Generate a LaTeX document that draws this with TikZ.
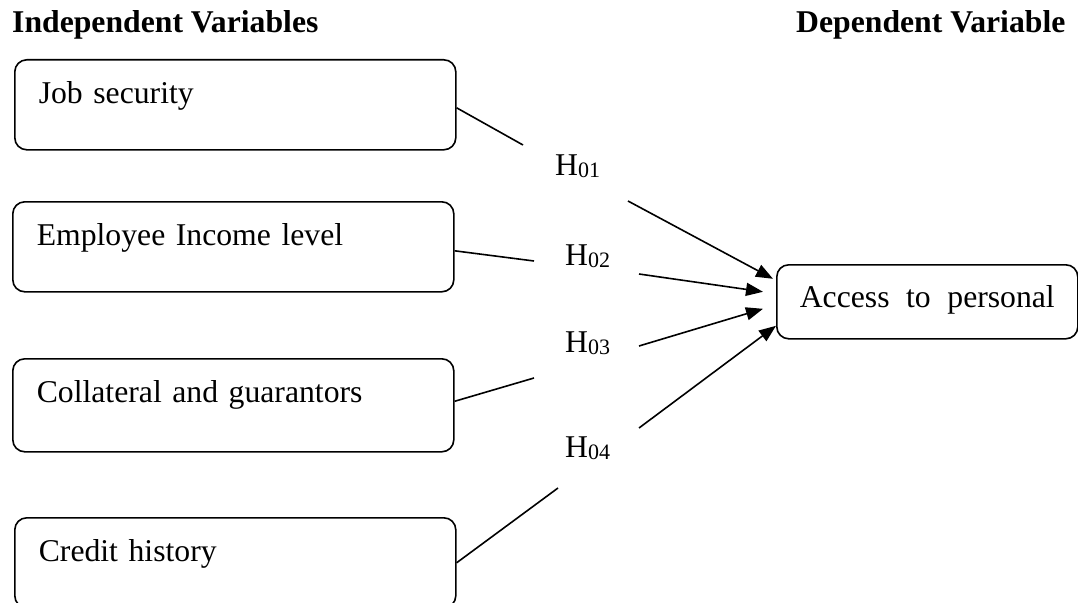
\documentclass[tikz,border=0pt]{standalone}
\usepackage{fontspec}
\setmainfont{Liberation Serif}
\usetikzlibrary{arrows.meta}
\newcommand{\hsub}[1]{\raisebox{-2pt}{\fontsize{22}{26}\selectfont #1}}
\tikzset{
  every node/.style={font=\fontsize{31.7}{38}\selectfont},
  varbox/.style={draw,line width=1.6pt,rounded corners=12pt,anchor=north west,
    text width=393pt,align=left,inner xsep=24pt,inner ysep=0pt,
    text height=44pt,text depth=46pt},
  accbox/.style={draw,line width=1.6pt,rounded corners=12pt,anchor=north west,
    minimum width=301pt,inner xsep=0pt,inner ysep=0pt,
    text height=43pt,text depth=31pt},
  headtext/.style={anchor=base west,inner sep=0pt,font=\bfseries\fontsize{31.7}{38}\selectfont},
  hyp/.style={anchor=base west,inner sep=0pt},
  link/.style={line width=1.6pt},
  linkarrow/.style={line width=1.6pt,-{Triangle[length=17pt,width=13pt]}}
}
\begin{document}
\begin{tikzpicture}[x=1pt,y=-1pt]
\useasboundingbox (0,0) rectangle (1078,602);
% headings
\node[headtext] (indep) at (12,33) {Independent Variables};
\node[headtext] (dep) at (796,33) {Dependent Variable};
% boxes
\node[varbox] (job) at (14,59) {Job security};
\node[varbox] (income) at (12,201) {Employee Income level};
\node[varbox,text depth=49pt] (collat) at (12,358) {Collateral and guarantors};
\node[varbox] (credit) at (14,517) {Credit history};
\node[accbox] (access) at (776,264) {\makebox[255pt][s]{Access to personal}};
% hypotheses
\node[hyp] (h1) at (555,175) {H\hsub{01}};
\node[hyp] (h2) at (565,265) {H\hsub{02}};
\node[hyp] (h3) at (565,352) {H\hsub{03}};
\node[hyp] (h4) at (565,457) {H\hsub{04}};
% line ends round the labels
\coordinate (g1a) at (523,145);
\coordinate (g1b) at (628,201);
\coordinate (g2a) at (534,261);
\coordinate (g2b) at (639,274);
\coordinate (g3a) at (534,378);
\coordinate (g3b) at (639,346);
\coordinate (g4a) at (558,488);
\coordinate (g4b) at (639,428);
% links
\draw[link] ([yshift=-3pt]job.east) -- (g1a);
\draw[link] ([yshift=-4pt]income.east) -- (g2a);
\draw[link] ([yshift=4pt]collat.east) -- (g3a);
\draw[link] (credit.east) -- (g4a);
\draw[linkarrow] (g1b) -- ([xshift=-3pt,yshift=23pt]access.west);
\draw[linkarrow] (g2b) -- ([xshift=-13pt,yshift=10pt]access.west);
\draw[linkarrow] (g3b) -- ([xshift=-13pt,yshift=-7pt]access.west);
\draw[linkarrow] (g4b) -- ([yshift=-24pt]access.west);
\end{tikzpicture}
\end{document}
